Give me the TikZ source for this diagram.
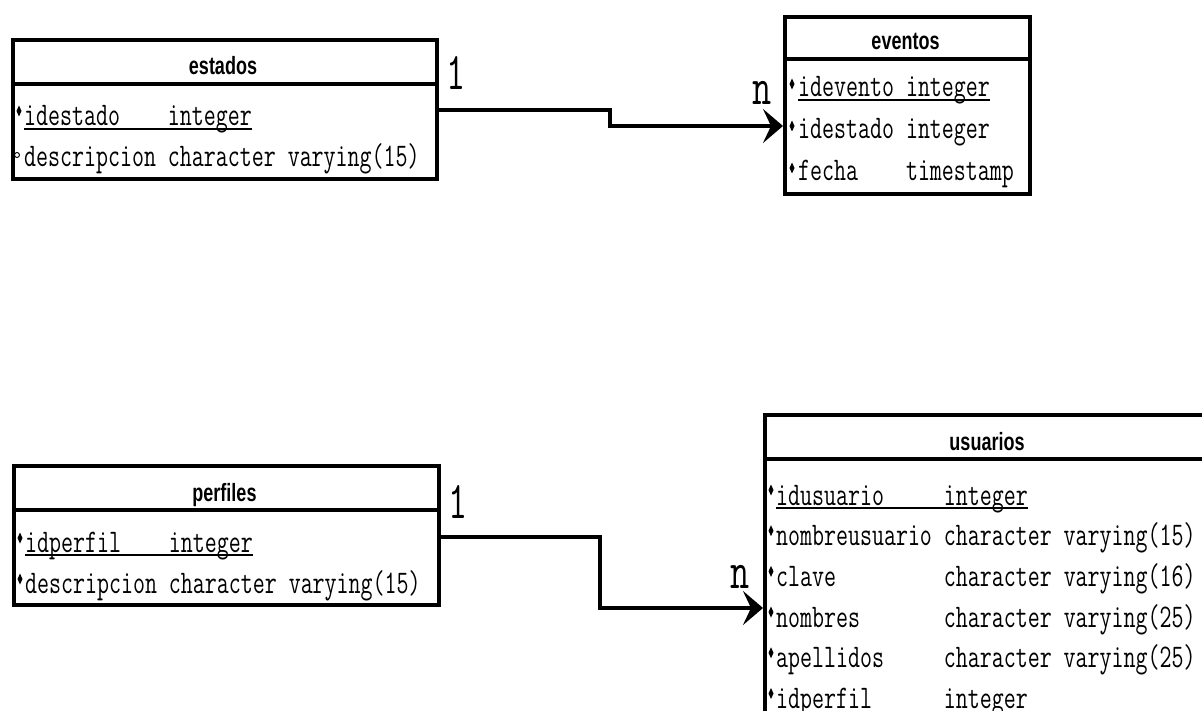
\documentclass[tikz,border=0pt]{standalone}
\usepackage{fontspec}
\usetikzlibrary{arrows.meta}
% narrow typewriter face for the columns, narrow sans for the table titles
\newfontfamily\rowfont[FakeStretch=0.705]{Latin Modern Mono}
\newfontfamily\hdrfont[FakeStretch=0.72]{Liberation Sans}
\newfontfamily\cardfont[FakeStretch=0.7]{Latin Modern Mono}

\tikzset{
  tbl/.style={draw, line width=3.8pt, inner sep=0pt, anchor=north west},
  sepline/.style={line width=3.8pt},
  hdr/.style={font=\hdrfont\bfseries\fontsize{25}{25}\selectfont, anchor=base, inner sep=0pt},
  fld/.style={font=\rowfont\fontsize{33}{33}\selectfont, anchor=base west, inner sep=0pt},
  card/.style={font=\cardfont\fontsize{53}{53}\selectfont, anchor=base, inner sep=0pt},
  conn/.style={line width=3.8pt, -{Stealth[length=20pt, width=34pt, inset=8pt]}},
  ul/.style={line width=2pt},
  keymark/.pic={\fill (-2.5,0) -- (0,-5.5) -- (2.5,0) -- (0,5.5) -- cycle;},
  nullmark/.pic={\draw[line width=0.9pt] (0,0) circle (2.5pt);},
}

\begin{document}
\begin{tikzpicture}[x=1pt, y=-1pt]
\useasboundingbox (0,0) rectangle (1202,711);
\clip (0,0) rectangle (1202,711);

% ---------- estados ----------
\node[tbl, minimum width=424pt, minimum height=139pt] (estados) at (11,38) {};
\draw[sepline] (11,84) -- (435,84);
\node[hdr] (estados-t) at (223,75) {estados};
\node[fld] (estados-1) at (24,126) {idestado\ \ \ \ integer};
\node[fld] (estados-2) at (24,167) {descripcion character varying(15)};
\draw[ul] ([yshift=-3pt]estados-1.base west) -- ([yshift=-3pt]estados-1.base east);
\pic at (19,111) {keymark};
\pic at (17,155) {nullmark};

% ---------- eventos ----------
\node[tbl, minimum width=245pt, minimum height=177pt] (eventos) at (783,15) {};
\draw[sepline] (783,59) -- (1028,59);
\node[hdr] (eventos-t) at (905.5,50) {eventos};
\node[fld] (eventos-1) at (798,97) {idevento integer};
\node[fld] (eventos-2) at (798,139) {idestado integer};
\node[fld] (eventos-3) at (798,181) {fecha\ \ \ \ timestamp};
\draw[ul] ([yshift=-3pt]eventos-1.base west) -- ([yshift=-3pt]eventos-1.base east);
\pic at (792,84) {keymark};
\pic at (792,126) {keymark};
\pic at (792,168) {keymark};

% ---------- perfiles ----------
\node[tbl, minimum width=425pt, minimum height=139pt] (perfiles) at (12,464) {};
\draw[sepline] (12,510) -- (437,510);
\node[hdr] (perfiles-t) at (224.5,501) {perfiles};
\node[fld] (perfiles-1) at (25,552) {idperfil\ \ \ \ integer};
\node[fld] (perfiles-2) at (25,593) {descripcion character varying(15)};
\draw[ul] ([yshift=-3pt]perfiles-1.base west) -- ([yshift=-3pt]perfiles-1.base east);
\pic at (20,538) {keymark};
\pic at (20,579) {keymark};

% ---------- usuarios ----------
\node[tbl, minimum width=450pt, minimum height=400pt] (usuarios) at (763,413) {};
\draw[sepline] (763,459) -- (1213,459);
\node[hdr] (usuarios-t) at (987,450) {usuarios};
\node[fld] (usuarios-1) at (776,505) {idusuario\ \ \ \ \ integer};
\node[fld] (usuarios-2) at (776,545.7) {nombreusuario character varying(15)};
\node[fld] (usuarios-3) at (776,586.4) {clave\ \ \ \ \ \ \ \ \ character varying(16)};
\node[fld] (usuarios-4) at (776,627.1) {nombres\ \ \ \ \ \ \ character varying(25)};
\node[fld] (usuarios-5) at (776,667.8) {apellidos\ \ \ \ \ character varying(25)};
\node[fld] (usuarios-6) at (776,708.5) {idperfil\ \ \ \ \ \ integer};
\draw[ul] ([yshift=-3pt]usuarios-1.base west) -- ([yshift=-3pt]usuarios-1.base east);
\foreach \yy in {490,530.7,571.4,612.1,652.8,693.5} \pic at (771,\yy) {keymark};

% ---------- relationships ----------
\coordinate (r1a) at (0,110);
\coordinate (r1b) at (0,126);
\coordinate (r2a) at (0,537);
\coordinate (r2b) at (0,608);
\draw[conn] (estados.east |- r1a) -- (610,110) |- (eventos.west |- r1b);
\draw[conn] (perfiles.east |- r2a) -- (600,537) |- (usuarios.west |- r2b);

\node[card] (card-e1) at (456,90) {1};
\node[card] (card-en) at (762,105) {n};
\node[card] (card-p1) at (458,518) {1};
\node[card] (card-un) at (740,588) {n};
\end{tikzpicture}
\end{document}
